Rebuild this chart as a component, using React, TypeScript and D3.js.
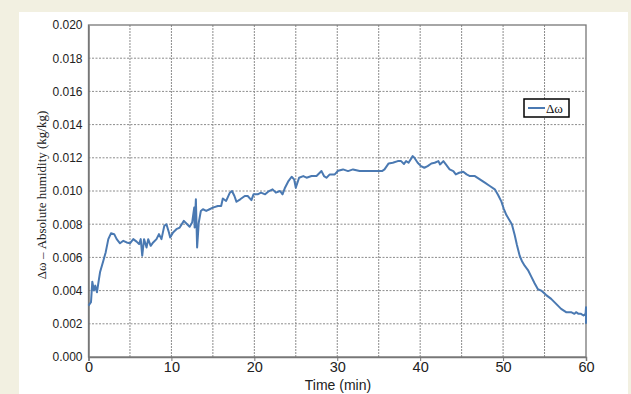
import React, { useEffect, useRef } from "react";
import * as d3 from "d3";

// time (min) and absolute humidity difference (kg/kg)
const timeMin = [
  0, 0.3, 0.46, 0.66, 0.82, 1.02, 1.2, 1.39, 1.79, 2.07, 2.39, 2.71, 3.1, 3.4, 3.8, 4.2, 4.6, 5.0, 5.4, 5.8,
  6.1, 6.3, 6.48, 6.7, 7.0, 7.2, 7.5, 7.8, 8.2, 8.5, 8.8, 9.14, 9.4, 9.7, 9.85, 10.2, 10.6, 11.0, 11.5, 11.9,
  12.2, 12.5, 12.75, 12.8, 12.95, 13.1, 13.3, 13.55, 13.8, 14.2, 14.6, 15.0, 15.6, 16.0, 16.2, 16.6, 17.05, 17.3, 17.6, 17.85,
  18.3, 18.85, 19.2, 19.65, 19.9, 20.4, 20.8, 21.3, 21.66, 22.2, 22.6, 23.1, 23.4, 23.7, 24.07, 24.5, 24.8, 25.0, 25.4, 25.9,
  26.3, 26.9, 27.5, 28.1, 28.4, 28.7, 29.1, 29.7, 30.1, 30.7, 31.3, 31.9, 32.7, 33.5, 34.3, 34.9, 35.4, 35.7, 36.2, 36.7,
  37.3, 37.7, 38.05, 38.3, 38.6, 39.1, 39.3, 39.7, 40.1, 40.5, 40.9, 41.35, 41.75, 42.2, 42.4, 42.8, 43.1, 43.55, 44.0, 44.3,
  44.7, 45.2, 45.6, 46.0, 46.6, 47.2, 47.8, 48.4, 49.0, 49.4, 49.8, 50.06, 50.4, 50.7, 51.06, 51.4, 51.67, 52.0, 52.3, 52.6,
  53.0, 53.4, 53.8, 54.2, 54.6, 55.2, 55.8, 56.4, 57.0, 57.6, 58.2, 58.6, 58.8, 59.1, 59.4, 59.7, 59.95, 60, 60,
];
const deltaOmega = [
  0.0031, 0.0033, 0.00454, 0.004, 0.0043, 0.0039, 0.0045, 0.0051, 0.0058, 0.0063, 0.0071, 0.00745, 0.0074, 0.0071, 0.00685, 0.007, 0.0069, 0.00685, 0.0071, 0.00695,
  0.0068, 0.0071, 0.0061, 0.0071, 0.0066, 0.0071, 0.0067, 0.0069, 0.0071, 0.0074, 0.0071, 0.0079, 0.008, 0.0075, 0.0072, 0.0075, 0.0077, 0.0078, 0.0082, 0.008,
  0.00785, 0.0081, 0.009, 0.0078, 0.0095, 0.0066, 0.0081, 0.0088, 0.0089, 0.0088, 0.0089, 0.009, 0.0091, 0.0091, 0.00955, 0.0094, 0.0099, 0.01, 0.0097, 0.00935,
  0.0095, 0.0097, 0.0097, 0.00945, 0.0098, 0.0098, 0.0099, 0.0098, 0.00996, 0.0101, 0.0099, 0.01, 0.0098, 0.0102, 0.01056, 0.01086, 0.0107, 0.0102, 0.0108, 0.0109,
  0.0108, 0.0109, 0.0109, 0.0112, 0.0109, 0.0108, 0.011, 0.011, 0.01122, 0.0113, 0.0112, 0.0113, 0.0112, 0.0112, 0.0112, 0.0112, 0.0112, 0.0113, 0.01166, 0.0117,
  0.0118, 0.0118, 0.01163, 0.0118, 0.0117, 0.0121, 0.012, 0.0117, 0.0115, 0.0114, 0.0115, 0.01166, 0.0117, 0.0118, 0.0116, 0.0118, 0.0116, 0.0113, 0.0112, 0.011,
  0.0111, 0.01116, 0.011, 0.0109, 0.0109, 0.0107, 0.0105, 0.0103, 0.0101, 0.00976, 0.00936, 0.00896, 0.00855, 0.0083, 0.008, 0.00735, 0.00675, 0.0061, 0.00575, 0.0055,
  0.00524, 0.00484, 0.00444, 0.00408, 0.004, 0.00373, 0.0035, 0.0032, 0.0029, 0.0027, 0.0027, 0.0026, 0.0027, 0.0026, 0.0026, 0.0025, 0.0026, 0.003, 0.002,
];
const xTicks = [0, 10, 20, 30, 40, 50, 60];
const xGrid = [5, 10, 15, 20, 25, 30, 35, 40, 45, 50, 55];
const yTicks = [0, 0.002, 0.004, 0.006, 0.008, 0.01, 0.012, 0.014, 0.016, 0.018, 0.02];

const W = 631;
const H = 394;
const margin = { top: 25, right: 45, bottom: 37, left: 88.5 };

export default function App() {
  const svgRef = useRef<SVGSVGElement>(null);

  useEffect(() => {
    const svg = d3.select(svgRef.current);
    svg.selectAll("*").remove();

    const x = d3.scaleLinear().domain([0, 60]).range([margin.left, W - margin.right]);
    const y = d3.scaleLinear().domain([0, 0.02]).range([H - margin.bottom, margin.top]);

    svg.append("rect").attr("width", W).attr("height", H).attr("fill", "#f2f0e1");
    svg.append("rect").attr("x", 19).attr("y", 12).attr("width", 609).attr("height", H - 12).attr("fill", "#fff");

    // grid
    svg.append("g")
      .selectAll("line")
      .data(yTicks.slice(1, -1))
      .join("line")
      .attr("x1", x(0)).attr("x2", x(60))
      .attr("y1", d => y(d)).attr("y2", d => y(d))
      .attr("stroke", "#8c8c8c").attr("stroke-width", 1).attr("stroke-dasharray", "2,1.5");
    svg.append("g")
      .selectAll("line")
      .data(xGrid)
      .join("line")
      .attr("x1", d => x(d)).attr("x2", d => x(d))
      .attr("y1", y(0)).attr("y2", y(0.02))
      .attr("stroke", "#8c8c8c").attr("stroke-width", 1).attr("stroke-dasharray", "2,1");

    // frame
    svg.append("rect")
      .attr("x", x(0)).attr("y", y(0.02))
      .attr("width", x(60) - x(0)).attr("height", y(0) - y(0.02))
      .attr("fill", "none").attr("stroke", "#777").attr("stroke-width", 1.3);

    // y axis
    const yAxis = svg.append("g")
      .attr("transform", `translate(${x(0)},0)`)
      .call(d3.axisLeft(y).tickValues(yTicks).tickSize(0).tickPadding(6).tickFormat(d3.format(".3f")));
    yAxis.select(".domain").attr("stroke", "#777").attr("stroke-width", 1.5);
    yAxis.selectAll("text")
      .attr("font-family", "Liberation Sans, Arial, sans-serif")
      .attr("font-size", 12).attr("fill", "#222");

    // x axis
    const xAxis = svg.append("g")
      .attr("transform", `translate(0,${y(0)})`)
      .call(d3.axisBottom(x).tickValues(xTicks).tickSize(4).tickFormat(d3.format("d")));
    xAxis.select(".domain").attr("stroke", "#777").attr("stroke-width", 1.5);
    xAxis.selectAll(".tick line").attr("stroke", "#777");
    xAxis.selectAll("text")
      .attr("font-family", "Liberation Sans, Arial, sans-serif")
      .attr("font-size", 14.5).attr("fill", "#222").attr("y", 5);

    svg.append("text")
      .attr("x", 338).attr("y", 390)
      .attr("text-anchor", "middle")
      .attr("font-family", "Liberation Sans, Arial, sans-serif")
      .attr("font-size", 14).attr("fill", "#222")
      .text("Time (min)");

    svg.append("text")
      .attr("transform", `translate(46,195) rotate(-90)`)
      .attr("text-anchor", "middle")
      .attr("font-family", "Liberation Serif, Times New Roman, serif")
      .attr("font-size", 13).attr("fill", "#222")
      .text("Δω – Absolute humidity (kg/kg)");

    // series
    const pts = timeMin.map((t, i) => [t, deltaOmega[i]] as [number, number]);
    const line = d3.line<[number, number]>().x(d => x(d[0])).y(d => y(d[1]));
    svg.append("path")
      .attr("d", line(pts))
      .attr("fill", "none")
      .attr("stroke", "#4a79b2")
      .attr("stroke-width", 2)
      .attr("stroke-linejoin", "round");

    // legend
    const lg = svg.append("g").attr("transform", "translate(524,99)");
    lg.append("rect").attr("width", 45).attr("height", 18)
      .attr("fill", "#fff").attr("stroke", "#000").attr("stroke-width", 1.5);
    lg.append("line").attr("x1", 4).attr("x2", 21).attr("y1", 9).attr("y2", 9)
      .attr("stroke", "#4a79b2").attr("stroke-width", 2);
    lg.append("text").attr("x", 22).attr("y", 13.5)
      .attr("font-family", "Liberation Serif, Times New Roman, serif")
      .attr("font-size", 13).attr("fill", "#111")
      .text("Δω");
  }, []);

  return <svg ref={svgRef} width={W} height={H} style={{ display: "block", position: "absolute", left: 0, top: 0 }} />;
}
